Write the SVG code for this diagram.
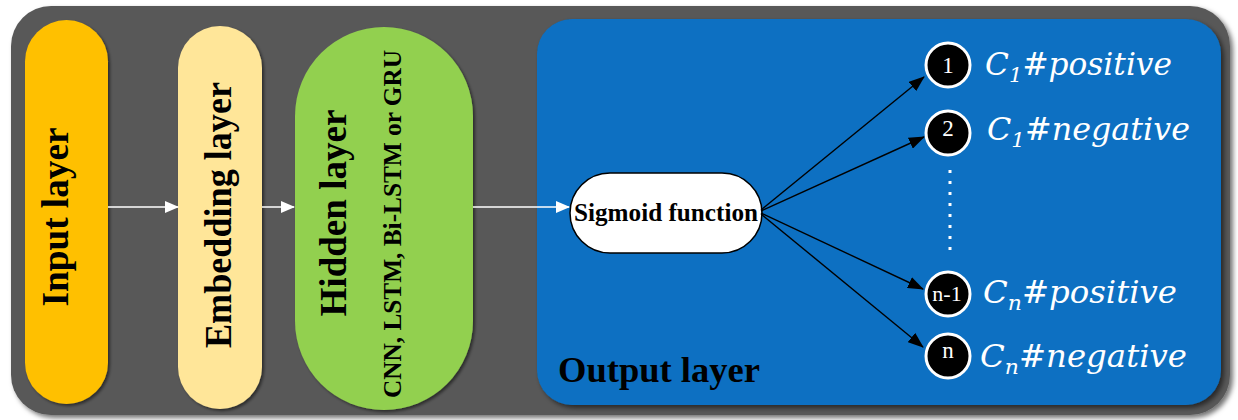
<svg xmlns="http://www.w3.org/2000/svg" width="1238" height="420" viewBox="0 0 1238 420">
<defs>
<style>
.lbl{font-family:"Liberation Serif","Times New Roman",serif;font-weight:bold;fill:#000}
.math{font-family:"DejaVu Serif","Liberation Serif",serif;font-style:italic;fill:#fff}
.num{font-family:"Liberation Serif","Times New Roman",serif;fill:#fff;text-anchor:middle}
.wline{stroke:#fff;stroke-width:1.5;fill:none}
.bline{stroke:#000;stroke-width:1.4;fill:none}
.circ{fill:#000;stroke:#fff;stroke-width:3}
</style>
<filter id="sh" x="-5%" y="-5%" width="110%" height="115%">
<feDropShadow dx="3" dy="3" stdDeviation="2.5" flood-color="#000" flood-opacity="0.55"/>
</filter>
<filter id="sh2" x="-10%" y="-10%" width="130%" height="130%">
<feDropShadow dx="2" dy="2" stdDeviation="1.5" flood-color="#000" flood-opacity="0.5"/>
</filter>
<marker id="wa" markerUnits="userSpaceOnUse" markerWidth="14" markerHeight="12" refX="13" refY="6" orient="auto">
<path d="M0,0 L14,6 L0,12 z" fill="#fff"/>
</marker>
<marker id="ba" markerUnits="userSpaceOnUse" markerWidth="16" markerHeight="12" refX="15" refY="6" orient="auto">
<path d="M0,0 L16,6 L0,12 z" fill="#000"/>
</marker>
</defs>
<rect width="1238" height="420" fill="#fff"/>
<g id="background">
<rect x="11" y="6" width="1219" height="409" rx="40" fill="#595959" filter="url(#sh)"/>
</g>
<g id="output-layer">
<rect x="537" y="19" width="684" height="386" rx="35" fill="#0A6FC2" filter="url(#sh)"/>
<text class="lbl" x="558" y="382" font-size="36" textLength="202" lengthAdjust="spacingAndGlyphs">Output layer</text>
</g>
<g id="input-layer">
<rect x="25" y="20" width="83" height="384" rx="41.5" fill="#FFC000" filter="url(#sh2)"/>
<text class="lbl" font-size="37" text-anchor="middle" textLength="179" lengthAdjust="spacingAndGlyphs" transform="translate(68,217) rotate(-90)">Input layer</text>
</g>
<g id="embedding-layer">
<rect x="178" y="26" width="84" height="383" rx="42" fill="#FFE699" filter="url(#sh2)"/>
<text class="lbl" font-size="37" text-anchor="middle" textLength="266" lengthAdjust="spacingAndGlyphs" transform="translate(231,215) rotate(-90)">Embedding layer</text>
</g>
<g id="hidden-layer">
<rect x="295" y="27" width="178" height="383" rx="89" fill="#92D050" filter="url(#sh2)"/>
<text class="lbl" font-size="37" text-anchor="middle" textLength="207" lengthAdjust="spacingAndGlyphs" transform="translate(346,213) rotate(-90)">Hidden layer</text>
<text class="lbl" font-size="25" text-anchor="middle" textLength="348" lengthAdjust="spacingAndGlyphs" transform="translate(401,224) rotate(-90)">CNN, LSTM, Bi-LSTM or GRU</text>
</g>
<g id="sigmoid">
<rect x="570" y="173" width="192" height="80" rx="40" fill="#fff" stroke="#000" stroke-width="1.5"/>
<text class="lbl" x="666" y="221" font-size="25" text-anchor="middle" textLength="184" lengthAdjust="spacingAndGlyphs">Sigmoid function</text>
</g>
<g id="connectors">
<line class="wline" x1="108" y1="207" x2="178" y2="207" marker-end="url(#wa)"/>
<line class="wline" x1="262" y1="207" x2="294" y2="207" marker-end="url(#wa)"/>
<line class="wline" x1="473" y1="207" x2="569" y2="207" marker-end="url(#wa)"/>
<line class="bline" x1="761" y1="210" x2="924" y2="77" marker-end="url(#ba)"/>
<line class="bline" x1="761" y1="211" x2="924" y2="137" marker-end="url(#ba)"/>
<line class="bline" x1="761" y1="213" x2="923" y2="289" marker-end="url(#ba)"/>
<line class="bline" x1="761" y1="214" x2="923" y2="347" marker-end="url(#ba)"/>
<line x1="950" y1="170" x2="950" y2="255" stroke="#fff" stroke-width="3" stroke-dasharray="3,8"/>
</g>
<g id="out1">
<circle class="circ" cx="948" cy="65" r="22"/>
<text class="num" x="948" y="73" font-size="23">1</text>
<text class="math" x="985" y="75" font-size="31" textLength="187" lengthAdjust="spacingAndGlyphs">C<tspan font-size="21" dy="7">1</tspan><tspan dy="-7">#positive</tspan></text>
</g>
<g id="out2">
<circle class="circ" cx="948" cy="133" r="22"/>
<text class="num" x="948" y="136" font-size="23">2</text>
<text class="math" x="987" y="140" font-size="31" textLength="203" lengthAdjust="spacingAndGlyphs">C<tspan font-size="21" dy="7">1</tspan><tspan dy="-7">#negative</tspan></text>
</g>
<g id="outn1">
<circle class="circ" cx="948" cy="294" r="22"/>
<text class="num" x="947" y="301" font-size="22">n-1</text>
<text class="math" x="983" y="303" font-size="31" textLength="194" lengthAdjust="spacingAndGlyphs">C<tspan font-size="21" dy="7">n</tspan><tspan dy="-7">#positive</tspan></text>
</g>
<g id="outn">
<circle class="circ" cx="948" cy="356" r="22"/>
<text class="num" x="948" y="358" font-size="23">n</text>
<text class="math" x="980" y="367" font-size="31" textLength="207" lengthAdjust="spacingAndGlyphs">C<tspan font-size="21" dy="7">n</tspan><tspan dy="-7">#negative</tspan></text>
</g>
</svg>
